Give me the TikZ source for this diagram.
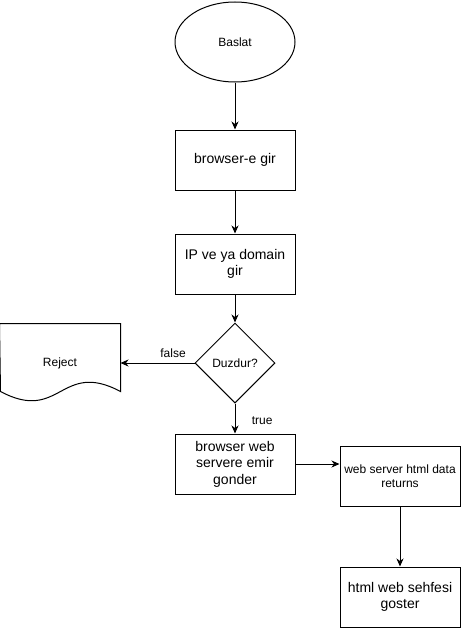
\documentclass[tikz,border=0pt]{standalone}
\usepackage{fontspec}
\setmainfont{Liberation Sans}
\usepackage{tikz}
\usetikzlibrary{shapes.geometric,arrows.meta,positioning}

\begin{document}
\begin{tikzpicture}[x=1pt,y=-1pt,line width=1pt,>={Stealth[length=8pt,width=7pt,inset=2.5pt]},
	small/.style={font=\fontsize{12}{14}\selectfont},
	big/.style={font=\fontsize{14}{16.5}\selectfont},
	box/.style={draw,rectangle,minimum width=120pt,minimum height=60pt,align=center,inner sep=2pt}]
		\useasboundingbox (0,0) rectangle (461,629);
		\node[draw,ellipse,small,minimum width=120pt,minimum height=80pt] (start) at (235,42) {Baslat};
		\node[box,big] (gir) at (235,160) {browser-e gir};
		\node[box,big] (ip) at (235,264) {IP ve ya domain\\gir};
		\node[draw,diamond,small,minimum width=80pt,minimum height=80pt,inner sep=0pt] (duz) at (235,363) {Duzdur?};
		\node[small,minimum width=120pt,minimum height=78pt] (rej) at (60,363) {Reject};
		\draw (rej.north west) -- (rej.north east) -- ++(0,68) .. controls +(-60,-32) and +(60,32) .. ++(-120,0) -- cycle;
		\node[box,big] (emir) at (235,464) {browser web\\servere emir\\gonder};
		\node[box,small] (data) at (400,476.5) {web server html data\\returns};
		\node[box,big] (goster) at (400,597) {html web sehfesi\\goster};
		% arrows
		\draw[->] (start) -- (gir);
		\draw[->] (gir) -- (ip);
		\draw[->] (ip) -- (duz);
		\draw[->] (duz.west) -- (duz.west -| rej.east) node[pos=0.29,above=2pt,small]{false};
		\draw[->] (duz) -- (emir) node[pos=0.58,right=13pt,small]{true};
		\draw[->] (emir.east) -- (emir.east -| data.west);
		\draw[->] (data) -- (goster);
	\end{tikzpicture}
\end{document}
